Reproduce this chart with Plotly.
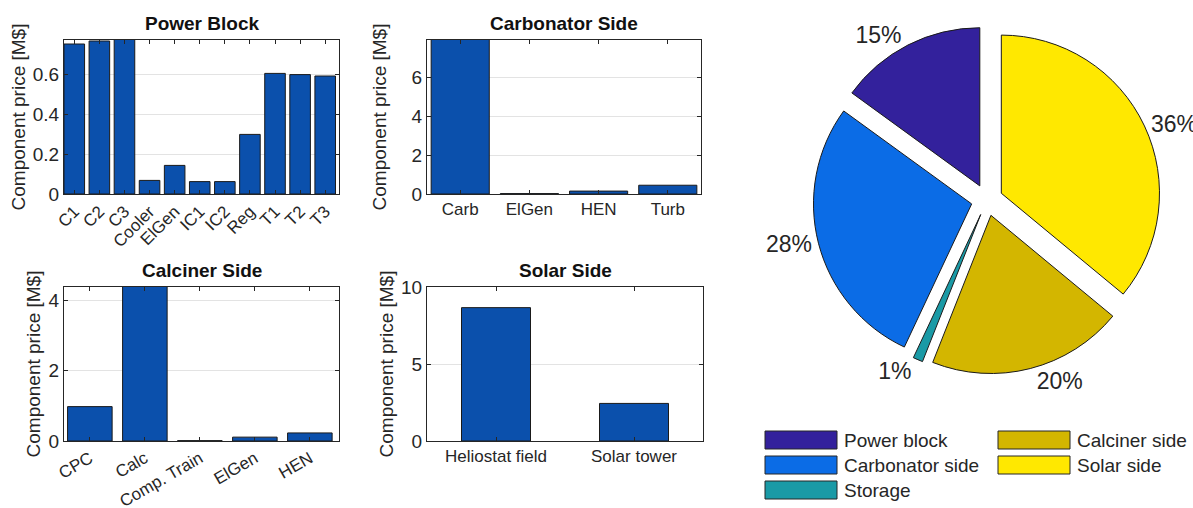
import plotly.graph_objects as go

W, H = 1193, 508

# ---------------- data ----------------
pb_cats = ["C1", "C2", "C3", "Cooler", "ElGen", "IC1", "IC2", "Reg", "T1", "T2", "T3"]
pb_vals = [0.75, 0.765, 0.80, 0.068, 0.143, 0.062, 0.062, 0.298, 0.603, 0.597, 0.59]

carb_cats = ["Carb", "ElGen", "HEN", "Turb"]
carb_vals = [8.2, 0.02, 0.15, 0.45]

calc_cats = ["CPC", "Calc", "Comp. Train", "ElGen", "HEN"]
calc_vals = [0.98, 4.6, 0.01, 0.11, 0.23]

solar_cats = ["Heliostat field", "Solar tower"]
solar_vals = [8.66, 2.44]

pie_labels = ["Power block", "Carbonator side", "Storage", "Calciner side", "Solar side"]
pie_vals = [15, 28, 1, 20, 36]

# ---------------- styles ----------------
FONT = "Liberation Sans, Arial, Helvetica, sans-serif"
BAR_COLOR = "#0b50ac"
EDGE = "#1a1a1a"
AXC = "#262626"
pie_colors = ["#33219c", "#0b6ce6", "#1a9aa6", "#d3b600", "#ffe800"]


def xdom(x0, x1):
    return [x0 / W, x1 / W]


def ydom(y0, y1):
    return [1 - y1 / H, 1 - y0 / H]


panels = [
    # title, cats, vals, xpix, ypix, xrange, yrange, yticks, tickangle, standoff, barwidth
    ("Power Block", pb_cats, pb_vals, (64, 339), (40, 194), [-0.41, 10.55], [0, 0.77], [0, 0.2, 0.4, 0.6], -45, 2, 0.82),
    ("Carbonator Side", carb_cats, carb_vals, (427, 701), (40, 194), [-0.48, 3.48], [0, 7.9], [0, 2, 4, 6], 0, 19, 0.84),
    ("Calciner Side", calc_cats, calc_vals, (64, 339), (287, 441), [-0.47, 4.53], [0, 4.39], [0, 2, 4], -30, 2, 0.81),
    ("Solar Side", solar_cats, solar_vals, (427, 703), (287, 441), [-0.5, 1.5], [0, 10], [0, 5, 10], 0, 2, 0.5),
]

fig = go.Figure()
layout = dict(
    width=W, height=H,
    margin=dict(l=0, r=0, t=0, b=0),
    paper_bgcolor="white", plot_bgcolor="white",
    template="none",
    showlegend=False,
    font=dict(family=FONT, color=AXC),
)
annotations = []
shapes = []

for i, (title, cats, vals, xp, yp, xr, yr, yt, ang, stand, bw) in enumerate(panels):
    n = "" if i == 0 else str(i + 1)
    fig.add_trace(go.Bar(
        x=cats, y=vals, width=bw,
        marker=dict(color=BAR_COLOR, line=dict(color=EDGE, width=1)),
        xaxis="x" + n, yaxis="y" + n,
    ))
    layout["xaxis" + n] = dict(
        domain=xdom(*xp), anchor="y" + n, type="category",
        range=xr, showgrid=False, showline=True, linecolor=AXC, linewidth=1,
        mirror="ticks", ticks="inside", ticklen=4, tickcolor=AXC,
        tickangle=ang, tickfont=dict(size=17, color=AXC, family=FONT),
        automargin=False, zeroline=False,
    )
    layout["yaxis" + n] = dict(
        domain=ydom(*yp), anchor="x" + n,
        range=yr, tickvals=yt, showgrid=True, gridcolor="#e3e3e3", gridwidth=1,
        showline=True, linecolor=AXC, linewidth=1,
        mirror="ticks", ticks="inside", ticklen=4, tickcolor=AXC,
        tickfont=dict(size=19, color=AXC, family=FONT),
        title=dict(text="Component price [M$]", font=dict(size=19, color=AXC, family=FONT), standoff=stand),
        automargin=False, zeroline=False,
    )
    annotations.append(dict(
        text="<b>" + title + "</b>", x=0.5, y=1, xref="x" + n + " domain", yref="y" + n + " domain",
        xanchor="center", yanchor="bottom", yshift=4, showarrow=False,
        font=dict(size=19, color="#111111", family=FONT),
    ))

# ---------------- pie ----------------
# counterclockwise from 12 o'clock (first slice starts at the top)
fig.add_trace(go.Pie(
    values=pie_vals, labels=pie_labels, sort=False,
    direction="counterclockwise", rotation=-360 * pie_vals[0] / sum(pie_vals), pull=0.1,
    marker=dict(colors=pie_colors, line=dict(color=EDGE, width=1)),
    textposition="outside", texttemplate="%{percent:.0%}",
    textfont=dict(size=23, color=AXC, family=FONT),
    domain=dict(x=xdom(813, 1161), y=ydom(26, 374)),
    showlegend=False, hoverinfo="label+percent",
))

# ---------------- custom legend ----------------
leg_cols_x = [765, 998]
sw_w, sw_h = 72, 18
row_y0, row_dy = 440, 25
rows_per_col = 3
for k, (lab, col) in enumerate(zip(pie_labels, pie_colors)):
    c, r = divmod(k, rows_per_col)
    x0 = leg_cols_x[c]
    yc = row_y0 + r * row_dy
    shapes.append(dict(
        type="rect", xref="paper", yref="paper",
        x0=x0 / W, x1=(x0 + sw_w) / W, y0=1 - (yc + sw_h / 2) / H, y1=1 - (yc - sw_h / 2) / H,
        fillcolor=col, line=dict(color=AXC, width=1),
    ))
    annotations.append(dict(
        text=lab, x=(x0 + sw_w + 5) / W, y=1 - yc / H, xref="paper", yref="paper",
        xanchor="left", yanchor="middle", showarrow=False,
        font=dict(size=19, color=AXC, family=FONT),
    ))

layout["annotations"] = annotations
layout["shapes"] = shapes
fig.update_layout(**layout)
fig.write_html("out.html")
